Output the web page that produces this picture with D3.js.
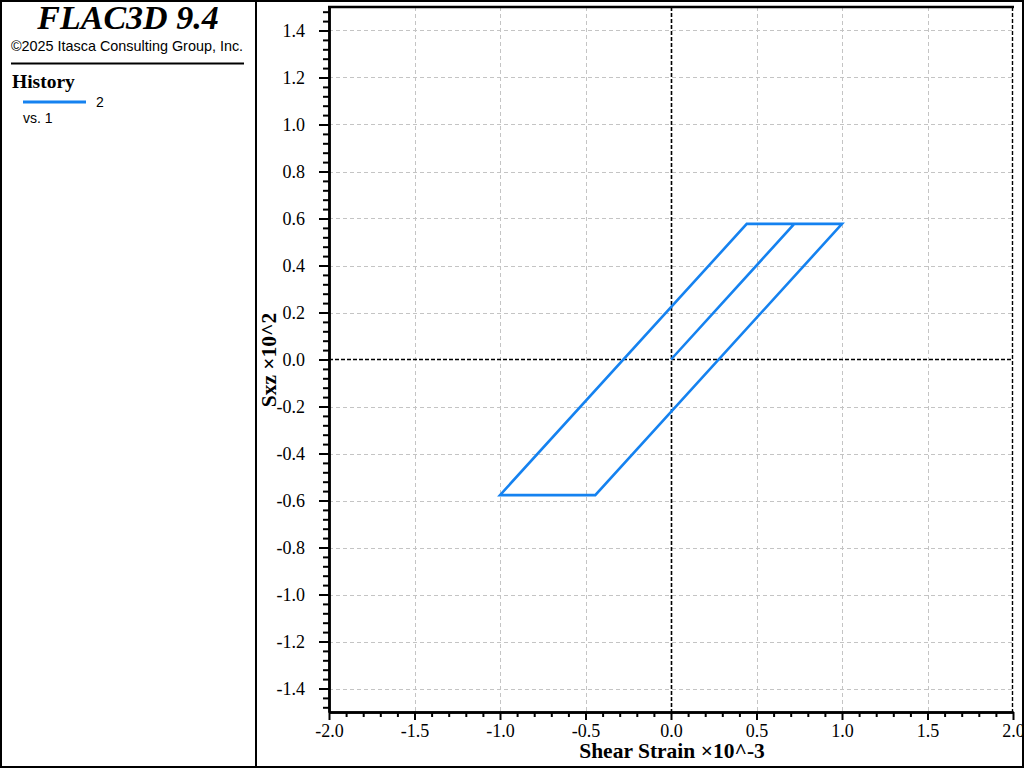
<!DOCTYPE html>
<html>
<head>
<meta charset="utf-8">
<script src="https://cdn.jsdelivr.net/npm/d3@7"></script>
<style>
  html, body { margin: 0; padding: 0; background: #fff; }
  svg { display: block; }
</style>
</head>
<body>
<script>
// ---- data ----
const strain = [0, 0.721, 1.0, -0.443, -1.0, 0.443, 1.0];      // Shear Strain x10^-3
const stress = [0, 0.577, 0.577, -0.577, -0.577, 0.577, 0.577];  // Sxz x10^2
const xTickValues = [-2.0, -1.5, -1.0, -0.5, 0.0, 0.5, 1.0, 1.5, 2.0];
const xTickLabels = ["-2.0", "-1.5", "-1.0", "-0.5", "0.0", "0.5", "1.0", "1.5", "2.0"];
const yTickValues = [-1.4, -1.2, -1.0, -0.8, -0.6, -0.4, -0.2, 0.0, 0.2, 0.4, 0.6, 0.8, 1.0, 1.2, 1.4];
const yTickLabels = ["-1.4", "-1.2", "-1.0", "-0.8", "-0.6", "-0.4", "-0.2", "0.0", "0.2", "0.4", "0.6", "0.8", "1.0", "1.2", "1.4"];
const xDomain = [-2.0, 2.0];
const yDomain = [-1.5, 1.5];
const titleText = "FLAC3D 9.4";
const copyrightText = "\u00A92025 Itasca Consulting Group, Inc.";
const legendTitle = "History";
const seriesName = "2";
const seriesVs = "vs. 1";
const xLabel = "Shear Strain \u00D710^-3";
const yLabel = "Sxz \u00D710^2";

const W = 1024, H = 768;
const serif = "'Liberation Serif', 'Times New Roman', serif";
const sans = "'Liberation Sans', Arial, sans-serif";
const lineColor = "#1582f0";

const svg = d3.select("body").append("svg").attr("width", W).attr("height", H);

const x = d3.scaleLinear().domain(xDomain).range([329, 1013]);
const y = d3.scaleLinear().domain(yDomain).range([712, 7]);

// outer border + panel separator
svg.append("rect").attr("x", 1).attr("y", 1).attr("width", W - 2).attr("height", H - 2)
  .attr("fill", "none").attr("stroke", "#000").attr("stroke-width", 2);
svg.append("line").attr("x1", 256).attr("x2", 256).attr("y1", 0).attr("y2", H)
  .attr("stroke", "#000").attr("stroke-width", 2);

// ---- left panel ----
svg.append("text").attr("x", 128).attr("y", 29).attr("text-anchor", "middle")
  .attr("font-family", serif).attr("font-size", 34).attr("font-weight", "bold").attr("font-style", "italic")
  .text(titleText);
svg.append("text").attr("x", 127).attr("y", 51).attr("text-anchor", "middle")
  .attr("font-family", sans).attr("font-size", 14.4).text(copyrightText);
svg.append("line").attr("x1", 11).attr("x2", 244).attr("y1", 63.5).attr("y2", 63.5)
  .attr("stroke", "#000").attr("stroke-width", 2);
svg.append("text").attr("x", 12).attr("y", 88)
  .attr("font-family", serif).attr("font-size", 19.5).attr("font-weight", "bold").text(legendTitle);
svg.append("line").attr("x1", 23).attr("x2", 86).attr("y1", 102).attr("y2", 102)
  .attr("stroke", lineColor).attr("stroke-width", 3);
svg.append("text").attr("x", 96).attr("y", 107)
  .attr("font-family", sans).attr("font-size", 14).text(seriesName);
svg.append("text").attr("x", 23).attr("y", 123)
  .attr("font-family", sans).attr("font-size", 14).text(seriesVs);

// ---- grid ----
const grid = svg.append("g");
grid.selectAll("line.gx").data(xTickValues.filter(v => v !== 0 && v !== xDomain[0] && v !== xDomain[1]))
  .join("line").attr("class", "gx")
  .attr("x1", d => Math.round(x(d)) + 0.5).attr("x2", d => Math.round(x(d)) + 0.5)
  .attr("y1", y(yDomain[1])).attr("y2", y(yDomain[0]))
  .attr("stroke", "#c4c4c4").attr("stroke-width", 1).attr("stroke-dasharray", "4,3");
grid.selectAll("line.gy").data(yTickValues.filter(v => v !== 0))
  .join("line").attr("class", "gy")
  .attr("y1", d => Math.round(y(d)) + 0.5).attr("y2", d => Math.round(y(d)) + 0.5)
  .attr("x1", x(xDomain[0])).attr("x2", x(xDomain[1]))
  .attr("stroke", "#c4c4c4").attr("stroke-width", 1).attr("stroke-dasharray", "4,3");

// zero lines and right edge (black dashed)
const zl = svg.append("g");
zl.append("line").attr("x1", x(0) + 0.5).attr("x2", x(0) + 0.5).attr("y1", y(yDomain[1])).attr("y2", y(yDomain[0]))
  .attr("stroke", "#000").attr("stroke-width", 1.6).attr("stroke-dasharray", "4,2");
zl.append("line").attr("y1", y(0)).attr("y2", y(0)).attr("x1", x(xDomain[0])).attr("x2", x(xDomain[1]))
  .attr("stroke", "#000").attr("stroke-width", 1.6).attr("stroke-dasharray", "4,2");
zl.append("line").attr("x1", x(xDomain[1]) - 0.5).attr("x2", x(xDomain[1]) - 0.5).attr("y1", y(yDomain[1])).attr("y2", y(yDomain[0]))
  .attr("stroke", "#000").attr("stroke-width", 1.4).attr("stroke-dasharray", "4,2");

// ---- data line ----
const pts = strain.map((s, i) => [s, stress[i]]);
svg.append("path").datum(pts)
  .attr("d", d3.line().x(d => x(d[0])).y(d => y(d[1])))
  .attr("fill", "none").attr("stroke", lineColor).attr("stroke-width", 2.6)
  .attr("stroke-linejoin", "miter");

// ---- axes ----
const xMinor = d3.range(-20, 21).map(i => i / 10).filter(v => Math.abs(v * 2 - Math.round(v * 2)) > 1e-9);
const yMinor = d3.range(-37, 38).map(i => i * 0.04).filter(v => Math.abs(v * 5 - Math.round(v * 5)) > 1e-9 && Math.abs(v) <= 1.5);

const xAxis = svg.append("g").attr("transform", `translate(0,${y(yDomain[0])})`)
  .call(d3.axisBottom(x).tickValues(xTickValues).tickSize(8).tickSizeOuter(0)
    .tickFormat((d, i) => xTickLabels[i]));
const xAxisMinor = svg.append("g").attr("transform", `translate(0,${y(yDomain[0])})`)
  .call(d3.axisBottom(x).tickValues(xMinor).tickSize(5).tickSizeOuter(0).tickFormat(""));
const yAxis = svg.append("g").attr("transform", `translate(${x(xDomain[0])},0)`)
  .call(d3.axisLeft(y).tickValues(yTickValues).tickSize(10).tickSizeOuter(0)
    .tickFormat((d, i) => yTickLabels[i]));
const yAxisMinor = svg.append("g").attr("transform", `translate(${x(xDomain[0])},0)`)
  .call(d3.axisLeft(y).tickValues(yMinor).tickSize(6).tickSizeOuter(0).tickFormat(""));

[xAxis, xAxisMinor, yAxis, yAxisMinor].forEach(g => {
  g.selectAll("path.domain").attr("stroke", "#000").attr("stroke-width", 2.5);
  g.selectAll(".tick line").attr("stroke", "#000").attr("stroke-width", 2);
  g.selectAll("text").attr("font-family", serif).attr("font-size", 18).attr("fill", "#000");
});
xAxis.selectAll("text").attr("dy", null).attr("y", 25);
yAxis.selectAll("text").attr("x", -24).attr("dy", "0.34em");

// top frame
svg.append("line").attr("x1", x(xDomain[0]) - 1).attr("x2", x(xDomain[1]) + 1).attr("y1", y(yDomain[1])).attr("y2", y(yDomain[1]))
  .attr("stroke", "#000").attr("stroke-width", 2.5);

// axis labels
svg.append("text").attr("x", 672).attr("y", 758).attr("text-anchor", "middle")
  .attr("font-family", serif).attr("font-size", 21.5).attr("font-weight", "bold").text(xLabel);
svg.append("text").attr("transform", "translate(276,360) rotate(-90)").attr("text-anchor", "middle")
  .attr("font-family", serif).attr("font-size", 21.5).attr("font-weight", "bold").text(yLabel);
</script>
</body>
</html>
